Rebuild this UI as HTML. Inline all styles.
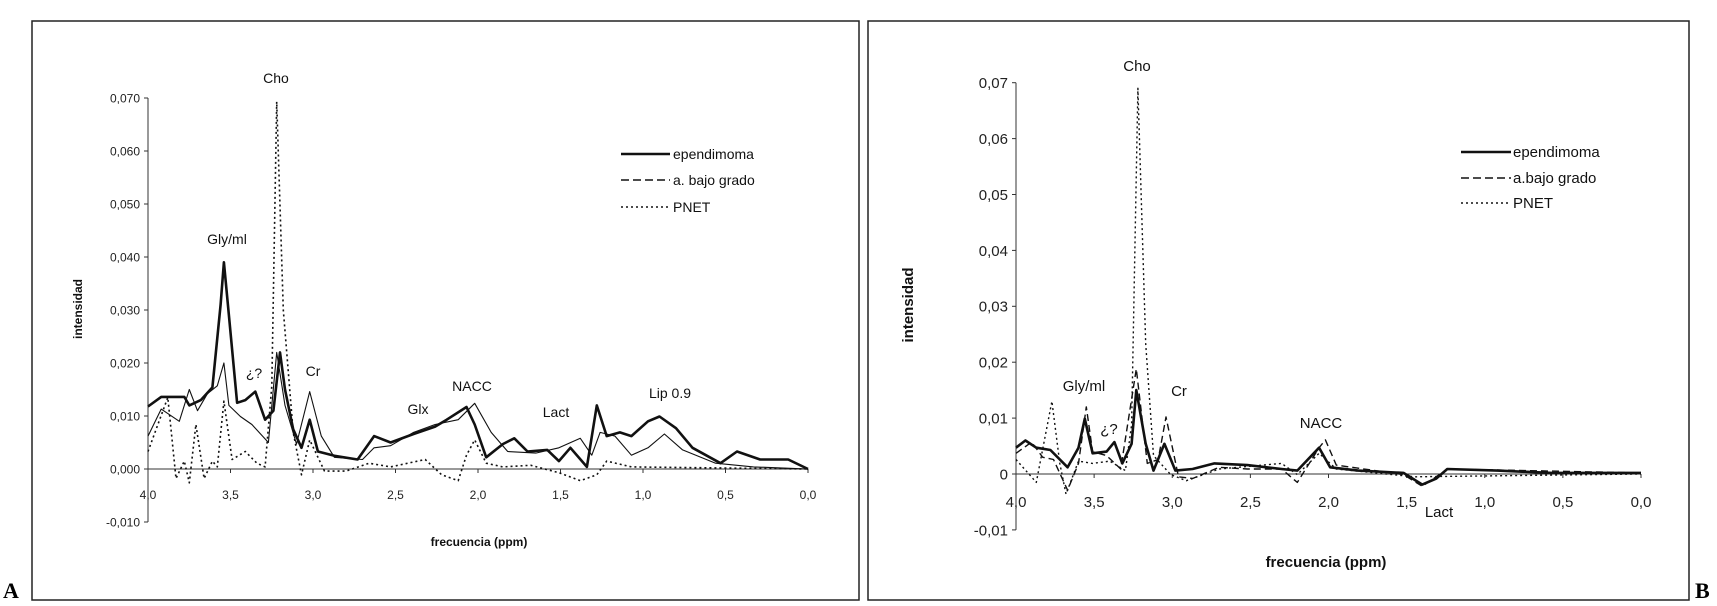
<!DOCTYPE html>
<html><head><meta charset="utf-8"><style>
html,body{margin:0;padding:0;background:#fff;}
svg{display:block;font-family:"Liberation Sans",Arial,sans-serif;}
</style></head><body>
<svg id="fig" width="1717" height="606" viewBox="0 0 1717 606">
<rect x="32" y="21" width="827" height="579" fill="none" stroke="#222" stroke-width="1.5"/>
<rect x="868" y="21" width="821" height="579" fill="none" stroke="#222" stroke-width="1.5"/>
<text x="3" y="598" font-family="Liberation Serif" font-weight="bold" font-size="22">A</text>
<text x="1695" y="598" font-family="Liberation Serif" font-weight="bold" font-size="22">B</text>
<g id="gA"></g>
<g id="gB"></g>
</svg>
<script>
// ---- Panel A data ----
const aYTicks = [-0.01,0,0.01,0.02,0.03,0.04,0.05,0.06,0.07];
const aYTickLabels = ["-0,010","0,000","0,010","0,020","0,030","0,040","0,050","0,060","0,070"];
const xTicks = [4,3.5,3,2.5,2,1.5,1,0.5,0];
const aXTickLabels = ["4,0","3,5","3,0","2,5","2,0","1,5","1,0","0,5","0,0"];
const aEpPpm = [4.0,3.92,3.78,3.75,3.68,3.61,3.56,3.54,3.51,3.46,3.41,3.35,3.29,3.24,3.2,3.17,3.12,3.07,3.02,2.97,2.87,2.73,2.63,2.53,2.39,2.26,2.19,2.07,2.02,1.95,1.85,1.78,1.70,1.58,1.51,1.44,1.34,1.28,1.22,1.14,1.07,0.97,0.90,0.80,0.70,0.53,0.43,0.29,0.12,0.0];
const aEpVal = [0.0118,0.0136,0.0136,0.012,0.013,0.0154,0.031,0.039,0.029,0.0125,0.013,0.0146,0.0093,0.011,0.022,0.015,0.0075,0.004,0.0093,0.0033,0.0025,0.0018,0.0062,0.005,0.0066,0.008,0.0093,0.0117,0.0084,0.0022,0.0047,0.0058,0.0033,0.0036,0.0015,0.004,0.0004,0.012,0.0062,0.0069,0.0062,0.009,0.0099,0.0077,0.004,0.0011,0.0033,0.0018,0.0018,0];
const aBgPpm = [4.0,3.92,3.81,3.75,3.70,3.64,3.58,3.54,3.51,3.44,3.37,3.27,3.22,3.17,3.10,3.02,2.95,2.87,2.70,2.63,2.53,2.39,2.26,2.12,2.02,1.92,1.82,1.65,1.51,1.38,1.31,1.26,1.17,1.07,0.97,0.87,0.76,0.56,0.33,0];
const aBgVal = [0.0062,0.0113,0.009,0.015,0.011,0.0142,0.0157,0.02,0.012,0.0099,0.0084,0.005,0.022,0.012,0.0047,0.0146,0.0062,0.0022,0.0018,0.004,0.0044,0.0069,0.0084,0.0093,0.0124,0.0069,0.0033,0.003,0.004,0.0058,0.0026,0.0069,0.0062,0.0026,0.004,0.0066,0.0036,0.0011,0.0004,0];
const aPnPpm = [4.0,3.88,3.83,3.78,3.75,3.71,3.66,3.61,3.58,3.54,3.49,3.41,3.34,3.29,3.25,3.22,3.18,3.12,3.07,3.02,2.93,2.80,2.66,2.53,2.32,2.22,2.12,2.07,2.02,1.95,1.85,1.68,1.51,1.38,1.28,1.22,1.07,0];
const aPnVal = [0.0033,0.0135,-0.0018,0.0015,-0.0026,0.0084,-0.0018,0.0015,0.0004,0.0128,0.0018,0.0033,0.0011,0.0004,0.0157,0.0693,0.030,0.0069,-0.0011,0.0055,-0.0004,-0.0004,0.0011,0.0004,0.0018,-0.0011,-0.0022,0.0026,0.0055,0.0011,0.0004,0.0007,-0.0007,-0.0022,-0.0011,0.0015,0.0004,0];
// ---- Panel B data ----
const bYTicks = [-0.01,0,0.01,0.02,0.03,0.04,0.05,0.06,0.07];
const bYTickLabels = ["-0,01","0","0,01","0,02","0,03","0,04","0,05","0,06","0,07"];
const bXTickLabels = ["4,0","3,5","3,0","2,5","2,0","1,5","1,0","0,5","0,0"];
const bEpPpm = [4.0,3.94,3.87,3.78,3.67,3.60,3.56,3.51,3.42,3.37,3.32,3.26,3.23,3.17,3.12,3.05,2.98,2.87,2.73,2.52,2.30,2.20,2.06,1.99,1.81,1.52,1.40,1.31,1.24,0.92,0.57,0.0];
const bEpVal = [0.0047,0.006,0.0047,0.0043,0.0012,0.0047,0.0099,0.0037,0.004,0.0057,0.0019,0.0054,0.015,0.0054,0.0006,0.0054,0.0006,0.0009,0.0019,0.0016,0.0009,0.0006,0.0047,0.0012,0.0006,0.0002,-0.0019,-0.0008,0.0009,0.0006,0.0002,0.0002];
const bBgPpm = [4.0,3.90,3.83,3.76,3.67,3.60,3.55,3.51,3.42,3.33,3.23,3.16,3.09,3.04,2.96,2.87,2.70,2.52,2.30,2.20,2.06,2.02,1.95,1.52,1.40,1.24,0];
const bBgVal = [0.0037,0.0057,0.003,0.0026,-0.0029,0.0019,0.012,0.004,0.0033,0.0009,0.0188,0.0019,0.0026,0.0102,-0.0005,-0.0008,0.0012,0.0009,0.0009,-0.0015,0.0047,0.0061,0.0016,-0.0001,-0.0022,0.0009,0.0002];
const bPnPpm = [4.0,3.87,3.77,3.72,3.68,3.60,3.51,3.40,3.30,3.26,3.22,3.17,3.12,3.01,2.91,2.70,2.30,2.20,2.06,1.95,1.45,0];
const bPnVal = [0.0026,-0.0015,0.013,0.0019,-0.0036,0.0023,0.0019,0.0023,0.0006,0.0088,0.069,0.0233,0.0033,-0.0001,-0.0012,0.0009,0.0019,-0.0001,0.0037,0.0009,-0.0005,0];

const NS = "http://www.w3.org/2000/svg";
function mk(parent, tag, attrs, txt){
  const e = document.createElementNS(NS, tag);
  for (const k in attrs) e.setAttribute(k, attrs[k]);
  if (txt !== undefined) e.textContent = txt;
  parent.appendChild(e);
  return e;
}
function drawChart(g, cfg){
  const X = p => cfg.x0 + (4 - p) / 4 * (cfg.x1 - cfg.x0);
  const Y = v => cfg.yZero - v * cfg.yScale;
  let ax = mk(g, 'line', {x1:X(4), x2:X(4), y1:Y(0.07), y2:Y(-0.01), stroke:'#333', 'stroke-width':1});
  
  
  cfg.yTicks.forEach((v, i) => {
    const t = mk(g, 'line', {x1:X(4)-4, x2:X(4), y1:Y(v), y2:Y(v), stroke:'#333'});
    
    
    const l = mk(g, 'text', {x:X(4)-8, y:Y(v)+cfg.tf*0.36, 'text-anchor':'end', 'font-size':cfg.tf, fill:'#222'}, cfg.yLabels[i]);
    
    
  });
  let xa = mk(g, 'line', {x1:X(4), x2:X(0), y1:Y(0), y2:Y(0), stroke:'#333', 'stroke-width':1});
  
  
  xTicks.forEach((p, i) => {
    const t = mk(g, 'line', {x1:X(p), x2:X(p), y1:Y(0), y2:Y(0)+4, stroke:'#333'});
    
    
    const l = mk(g, 'text', {x:X(p), y:cfg.xLabY, 'text-anchor':'middle', 'font-size':cfg.tf, fill:'#222'}, cfg.xLabels[i]);
    
    
  });
  cfg.series.forEach(s => {
    const d = s.ppm.map((p, i) => (i ? 'L' : 'M') + X(p).toFixed(1) + ' ' + Y(s.val[i]).toFixed(1)).join(' ');
    const path = mk(g, 'path', {d:d, fill:'none', stroke:'#111', 'stroke-width':s.w, 'stroke-dasharray':s.dash, 'stroke-linejoin':'round'});
    
    
  });
}
drawChart(document.getElementById('gA'), {
  x0:148, x1:808, yZero:469, yScale:5300, tf:12, xLabY:499,
  yTicks:aYTicks, yLabels:aYTickLabels, xLabels:aXTickLabels,
  series:[
    {ppm:aPnPpm, val:aPnVal, w:1.6, dash:'2 3', name:'series-pnet-a'},
    {ppm:aBgPpm, val:aBgVal, w:1.1, dash:'none', name:'series-bajo-grado-a'},
    {ppm:aEpPpm, val:aEpVal, w:2.6, dash:'none', name:'series-ependimoma-a'}
  ]});
drawChart(document.getElementById('gB'), {
  x0:1016, x1:1641, yZero:474, yScale:5590, tf:15, xLabY:507,
  yTicks:bYTicks, yLabels:bYTickLabels, xLabels:bXTickLabels,
  series:[
    {ppm:bPnPpm, val:bPnVal, w:1.4, dash:'2 3', name:'series-pnet-b'},
    {ppm:bBgPpm, val:bBgVal, w:1.4, dash:'7 4', name:'series-bajo-grado-b'},
    {ppm:bEpPpm, val:bEpVal, w:2.6, dash:'none', name:'series-ependimoma-b'}
  ]});
</script>
<script>
const svg = document.getElementById('fig');
const labels = [
 [276,83,"Cho",14,"normal","middle","annotation-cho-a"],
 [227,244,"Gly/ml",14,"normal","middle","annotation-gly-a"],
 [254,378,"¿?",14,"normal","middle","annotation-unknown-a"],
 [313,376,"Cr",14,"normal","middle","annotation-cr-a"],
 [418,414,"Glx",14,"normal","middle","annotation-glx-a"],
 [472,391,"NACC",14,"normal","middle","annotation-nacc-a"],
 [556,417,"Lact",14,"normal","middle","annotation-lact-a"],
 [670,398,"Lip 0.9",14,"normal","middle","annotation-lip-a"],
 [1137,71,"Cho",15,"normal","middle","annotation-cho-b"],
 [1084,391,"Gly/ml",15,"normal","middle","annotation-gly-b"],
 [1109,434,"¿?",15,"normal","middle","annotation-unknown-b"],
 [1179,396,"Cr",15,"normal","middle","annotation-cr-b"],
 [1321,428,"NACC",15,"normal","middle","annotation-nacc-b"],
 [1439,517,"Lact",15,"normal","middle","annotation-lact-b"],
 [479,546,"frecuencia (ppm)",12,"bold","middle","x-axis-title-a"],
 [1326,567,"frecuencia (ppm)",15,"bold","middle","x-axis-title-b"],
 [673,159,"ependimoma",14,"normal","start","legend-ependimoma-a"],
 [673,185,"a. bajo grado",14,"normal","start","legend-bajo-grado-a"],
 [673,212,"PNET",14,"normal","start","legend-pnet-a"],
 [1513,157,"ependimoma",15,"normal","start","legend-ependimoma-b"],
 [1513,183,"a.bajo grado",15,"normal","start","legend-bajo-grado-b"],
 [1513,208,"PNET",15,"normal","start","legend-pnet-b"]
];
labels.forEach(l => {
  const t = document.createElementNS("http://www.w3.org/2000/svg", 'text');
  t.setAttribute('x', l[0]); t.setAttribute('y', l[1]);
  t.setAttribute('font-size', l[3]); t.setAttribute('font-weight', l[4]);
  t.setAttribute('text-anchor', l[5]); t.setAttribute('fill', '#111');
  t.textContent = l[2];
  
  
  svg.appendChild(t);
});
const yt = [[82,309,12,"y-axis-title-a"],[913,305,15,"y-axis-title-b"]];
yt.forEach(a => {
  const t = document.createElementNS("http://www.w3.org/2000/svg", 'text');
  t.setAttribute('transform', 'translate(' + a[0] + ',' + a[1] + ') rotate(-90)');
  t.setAttribute('text-anchor', 'middle'); t.setAttribute('font-weight', 'bold');
  t.setAttribute('font-size', a[2]); t.setAttribute('fill', '#111');
  t.textContent = 'intensidad';
  
  
  svg.appendChild(t);
});
const leg = [[621,670,154,2.6,'none'],[621,670,180,1.4,'8 4'],[621,670,207,1.4,'2 3'],
             [1461,1511,152,2.6,'none'],[1461,1511,178,1.6,'8 4'],[1461,1511,203,1.4,'2 3']];
leg.forEach(a => {
  const ln = document.createElementNS("http://www.w3.org/2000/svg", 'line');
  ln.setAttribute('x1', a[0]); ln.setAttribute('x2', a[1]);
  ln.setAttribute('y1', a[2]); ln.setAttribute('y2', a[2]);
  ln.setAttribute('stroke', '#111'); ln.setAttribute('stroke-width', a[3]);
  ln.setAttribute('stroke-dasharray', a[4]);
  
  
  svg.appendChild(ln);
});
</script>
</body></html>
